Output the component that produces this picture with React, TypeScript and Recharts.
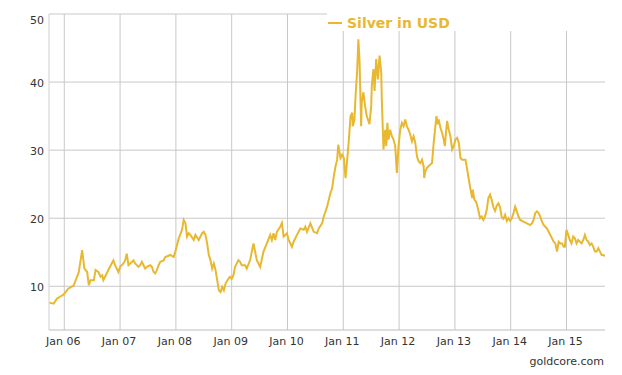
import React from 'react';
import { LineChart, Line, XAxis, YAxis, CartesianGrid, Legend } from 'recharts';

const dates: number[] = [
  2005.73, 2005.81, 2005.87, 2005.93, 2005.99, 2006.07, 2006.17, 2006.26, 2006.32, 2006.36,
  2006.41, 2006.44, 2006.47, 2006.53, 2006.56, 2006.61, 2006.65, 2006.68, 2006.70, 2006.73,
  2006.79, 2006.85, 2006.88, 2006.91, 2006.94, 2006.97, 2007.00, 2007.06, 2007.09, 2007.12,
  2007.15, 2007.18, 2007.24, 2007.27, 2007.33, 2007.36, 2007.39, 2007.42, 2007.45, 2007.48,
  2007.54, 2007.57, 2007.60, 2007.63, 2007.66, 2007.69, 2007.72, 2007.78, 2007.81, 2007.90,
  2007.96, 2007.99, 2008.05, 2008.11, 2008.14, 2008.17, 2008.20, 2008.23, 2008.26, 2008.32,
  2008.35, 2008.41, 2008.47, 2008.50, 2008.53, 2008.56, 2008.59, 2008.62, 2008.65, 2008.68,
  2008.71, 2008.74, 2008.77, 2008.80, 2008.83, 2008.86, 2008.89, 2008.94, 2008.97, 2009.00,
  2009.03, 2009.06, 2009.12, 2009.15, 2009.18, 2009.24, 2009.27, 2009.33, 2009.39, 2009.45,
  2009.51, 2009.57, 2009.63, 2009.69, 2009.72, 2009.75, 2009.78, 2009.81, 2009.87, 2009.90,
  2009.93, 2009.99, 2010.02, 2010.08, 2010.11, 2010.17, 2010.23, 2010.29, 2010.32, 2010.35,
  2010.41, 2010.47, 2010.53, 2010.56, 2010.62, 2010.65, 2010.71, 2010.74, 2010.77, 2010.80,
  2010.83, 2010.86, 2010.89, 2010.91, 2010.95, 2010.98, 2011.01, 2011.04, 2011.07, 2011.10,
  2011.13, 2011.16, 2011.17, 2011.20, 2011.22, 2011.25, 2011.27, 2011.29, 2011.32, 2011.33,
  2011.36, 2011.39, 2011.42, 2011.47, 2011.50, 2011.51, 2011.54, 2011.56, 2011.59, 2011.62,
  2011.65, 2011.68, 2011.69, 2011.72, 2011.75, 2011.77, 2011.79, 2011.81, 2011.84, 2011.87,
  2011.90, 2011.93, 2011.96, 2011.99, 2012.02, 2012.05, 2012.08, 2012.11, 2012.14, 2012.17,
  2012.20, 2012.23, 2012.26, 2012.29, 2012.32, 2012.35, 2012.38, 2012.41, 2012.44, 2012.45,
  2012.47, 2012.50, 2012.56, 2012.59, 2012.62, 2012.65, 2012.67, 2012.69, 2012.71, 2012.74,
  2012.77, 2012.80, 2012.82, 2012.84, 2012.86, 2012.89, 2012.92, 2012.95, 2012.98, 2013.01,
  2013.04, 2013.07, 2013.10, 2013.13, 2013.19, 2013.22, 2013.25, 2013.28, 2013.31, 2013.32,
  2013.35, 2013.38, 2013.42, 2013.45, 2013.48, 2013.51, 2013.54, 2013.57, 2013.60, 2013.63,
  2013.66, 2013.69, 2013.72, 2013.75, 2013.78, 2013.81, 2013.84, 2013.87, 2013.90, 2013.93,
  2013.96, 2013.99, 2014.02, 2014.05, 2014.08, 2014.11, 2014.14, 2014.17, 2014.23, 2014.29,
  2014.35, 2014.38, 2014.41, 2014.44, 2014.47, 2014.50, 2014.53, 2014.56, 2014.59, 2014.62,
  2014.65, 2014.68, 2014.71, 2014.74, 2014.77, 2014.80, 2014.83, 2014.86, 2014.89, 2014.92,
  2014.95, 2014.97, 2015.00, 2015.03, 2015.06, 2015.09, 2015.12, 2015.15, 2015.18, 2015.21,
  2015.24, 2015.27, 2015.30, 2015.33, 2015.36, 2015.39, 2015.42, 2015.45, 2015.48, 2015.51,
  2015.54, 2015.57, 2015.60, 2015.63, 2015.66, 2015.69,
];

const silverUsd: number[] = [
  7.6, 7.45, 8.2, 8.5, 8.8, 9.65, 10.15, 12.1, 15.3, 12.6,
  12.1, 10.15, 10.9, 10.9, 12.4, 12.1, 11.4, 11.6, 10.9, 11.4,
  12.4, 13.35, 13.8, 13.1, 12.6, 12.1, 12.85, 13.35, 13.8, 14.8,
  13.1, 13.35, 13.8, 13.35, 12.85, 13.1, 13.6, 13.1, 12.6, 12.85,
  13.1, 12.85, 12.1, 11.9, 12.4, 13.1, 13.6, 13.8, 14.3, 14.6,
  14.3, 15.1, 17.0, 18.3, 19.75, 19.3, 17.3, 17.8, 17.55, 16.8,
  17.55, 16.8, 17.8, 18.0, 17.55, 16.3, 14.6, 13.85, 12.6, 13.35,
  12.4, 10.9, 9.4, 9.15, 9.9, 9.4, 10.4, 11.1, 11.4, 11.1,
  11.6, 12.85, 13.85, 13.6, 13.1, 13.1, 12.6, 13.85, 16.3, 13.85,
  12.85, 15.1, 16.3, 17.55, 16.8, 17.8, 16.8, 18.0, 18.75, 19.3,
  17.3, 17.8, 16.8, 15.8, 16.55, 17.55, 18.5, 18.3, 18.75, 18.0,
  19.25, 18.0, 17.8, 18.5, 19.25, 20.25, 21.7, 22.7, 23.7, 24.4,
  26.15, 27.6, 28.6, 30.8, 28.85, 29.35, 28.85, 25.9, 28.6, 31.55,
  35.0, 35.5, 33.5, 34.5, 38.0, 41.9, 46.3, 43.4, 33.5, 37.0,
  38.5, 36.5, 35.0, 33.8, 36.5, 39.4, 41.9, 38.7, 43.4, 40.4,
  43.9, 41.4, 37.5, 30.1, 33.0, 30.6, 34.0, 31.55, 33.0, 32.05,
  31.55, 30.6, 26.65, 30.6, 33.0, 34.0, 33.5, 34.5, 33.5, 33.0,
  32.3, 31.3, 32.05, 31.1, 29.1, 28.35, 28.1, 28.6, 27.6, 25.9,
  26.9, 27.4, 27.9, 28.1, 31.1, 33.5, 35.0, 33.8, 34.5, 33.3,
  32.55, 31.55, 30.6, 32.55, 34.3, 33.0, 32.05, 30.1, 30.6, 31.55,
  31.8, 31.1, 28.85, 28.6, 28.6, 27.15, 25.65, 24.2, 22.95, 24.2,
  22.7, 22.45, 21.2, 20.0, 20.25, 19.75, 20.25, 21.2, 22.95, 23.45,
  22.7, 21.6, 21.1, 21.85, 22.2, 21.6, 20.1, 19.9, 20.5, 19.6,
  20.0, 19.6, 20.0, 20.75, 21.7, 21.0, 20.25, 19.75, 19.5, 19.25,
  19.0, 19.25, 19.75, 20.75, 21.0, 20.75, 20.25, 19.5, 19.0, 18.75,
  18.5, 18.0, 17.55, 17.05, 16.55, 16.3, 15.1, 16.55, 16.3, 16.3,
  15.8, 15.8, 18.3, 17.55, 16.8, 16.3, 17.3, 17.05, 16.3, 16.8,
  16.55, 16.3, 16.8, 17.55, 16.8, 16.55, 16.05, 16.3, 15.8, 15.1,
  15.1, 15.6, 15.1, 14.6, 14.6, 14.4,
];

const xTicks: number[] = [2006, 2007, 2008, 2009, 2010, 2011, 2012, 2013, 2014, 2015];
const yTicks: number[] = [10, 20, 30, 40, 50];
const seriesName = 'Silver in USD';
const sourceLabel = 'goldcore.com';

const data = dates.map((t, i) => ({ t, v: silverUsd[i] }));

const GOLD = '#E8B830';
const FONT = '"DejaVu Sans", Verdana, sans-serif';

const XTick = (props: any) => {
  const { x, y, payload } = props;
  return (
    <text x={x - 1} y={y + 8} textAnchor="middle" fill="#333" fontSize={11} fontFamily={FONT}>
      {'Jan ' + String(payload.value).slice(2, 4)}
    </text>
  );
};

const YTick = (props: any) => {
  const { x, y, payload } = props;
  const extra = payload.value === 50 ? 6 : 1;
  return (
    <text x={x} y={y + 4 + extra} textAnchor="end" fill="#333" fontSize={11} fontFamily={FONT}>
      {payload.value}
    </text>
  );
};

const LegendContent = () => (
  <div style={{ position: 'relative', width: 280, height: 31, background: '#fff' }}>
    <span
      style={{ position: 'absolute', left: 1, top: 22, width: 14, height: 2, background: GOLD }}
    />
    <span
      style={{
        position: 'absolute',
        left: 20,
        top: 16,
        lineHeight: '14px',
        fontSize: 14,
        fontWeight: 'bold',
        color: GOLD,
        fontFamily: FONT,
        whiteSpace: 'nowrap',
      }}
    >
      {seriesName}
    </span>
  </div>
);

export default function App() {
  return (
    <div style={{ position: 'absolute', left: 0, top: 0, width: 622, height: 375, background: '#fff' }}>
      <LineChart width={622} height={375} data={data} margin={{ top: 14, right: 17, bottom: 15, left: 0 }}>
        <CartesianGrid stroke="#c8c8c8" horizontalValues={yTicks} verticalValues={xTicks} />
        <XAxis
          type="number"
          dataKey="t"
          domain={[2005.726, 2015.69]}
          ticks={xTicks}
          allowDataOverflow
          height={30}
          axisLine={{ stroke: '#bdbdbd' }}
          tickLine={false}
          tickSize={0}
          tickMargin={7}
          tick={<XTick />}
          interval={0}
        />
        <YAxis
          type="number"
          domain={[3.58, 50]}
          ticks={yTicks}
          allowDataOverflow
          width={49}
          axisLine={{ stroke: '#cfcfcf' }}
          tickLine={false}
          tickSize={0}
          tickMargin={5}
          tick={<YTick />}
          interval={0}
        />
        <Legend
          layout="vertical"
          align="center"
          verticalAlign="middle"
          content={<LegendContent />}
          wrapperStyle={{ position: 'absolute', left: 327, top: 0, width: 280, height: 31, margin: 0 }}
        />
        <Line
          type="linear"
          dataKey="v"
          name={seriesName}
          stroke={GOLD}
          strokeWidth={2}
          dot={false}
          activeDot={false}
          isAnimationActive={false}
        />
      </LineChart>
      <div
        style={{
          position: 'absolute',
          right: 18,
          top: 355,
          fontSize: 11,
          lineHeight: '14px',
          color: '#333',
          fontFamily: FONT,
        }}
      >
        {sourceLabel}
      </div>
    </div>
  );
}
